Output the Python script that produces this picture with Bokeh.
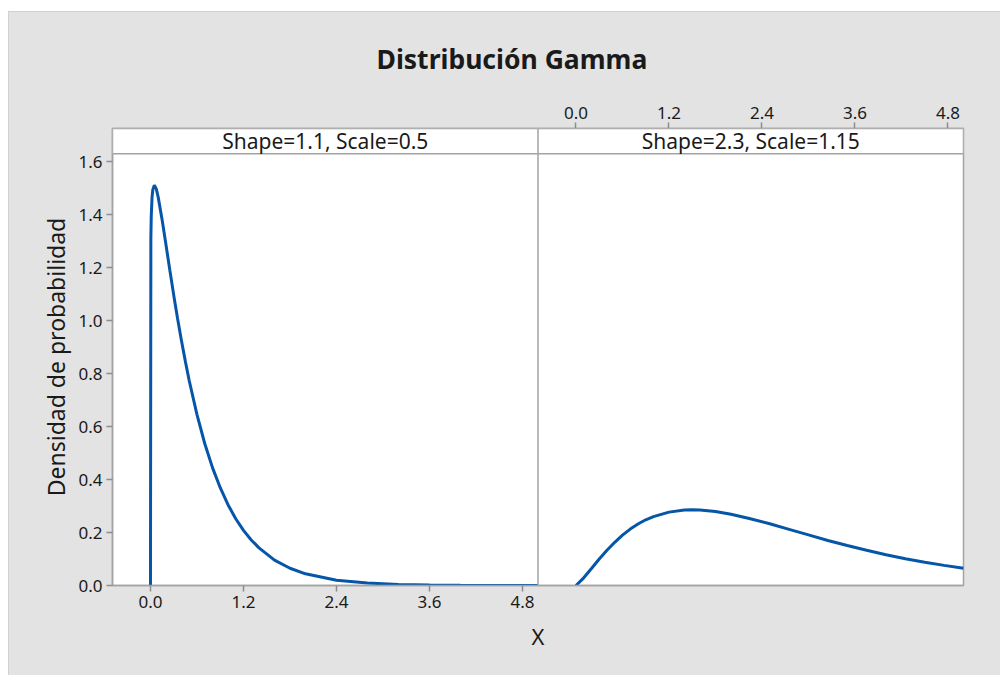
from bokeh.plotting import figure
from bokeh.models import (Range1d, FixedTicker, NumeralTickFormatter, LinearAxis,
                          BoxAnnotation, Span, Label, ColumnDataSource, Title)
from bokeh.embed import file_html
from bokeh.resources import INLINE

# ---- data ----
panel_titles = ["Shape=1.1, Scale=0.5", "Shape=2.3, Scale=1.15"]

x_left = [0.0, 0.005, 0.01, 0.02, 0.03, 0.05, 0.075, 0.1, 0.15, 0.2, 0.25, 0.3, 0.35,
          0.4, 0.45, 0.5, 0.6, 0.7, 0.8, 0.9, 1.0, 1.1, 1.2, 1.3, 1.4, 1.6, 1.8, 2.0,
          2.4, 2.8, 3.2, 3.6, 4.0, 4.5, 5.0]
y_left = [0.0, 1.313, 1.394, 1.464, 1.494, 1.511, 1.497, 1.465, 1.381, 1.286, 1.190,
          1.096, 1.007, 0.924, 0.846, 0.773, 0.645, 0.536, 0.445, 0.369, 0.305, 0.252,
          0.208, 0.172, 0.142, 0.096, 0.065, 0.044, 0.020, 0.009, 0.004, 0.002, 0.001,
          0.0003, 0.0001]

x_right = [0.0, 0.1, 0.2, 0.3, 0.4, 0.5, 0.6, 0.7, 0.8, 0.9, 1.0, 1.2, 1.4, 1.5, 1.6,
           1.8, 2.0, 2.25, 2.5, 2.75, 3.0, 3.25, 3.5, 3.75, 4.0, 4.25, 4.5, 4.75, 5.0]
y_right = [0.0, 0.029, 0.064, 0.100, 0.133, 0.163, 0.190, 0.213, 0.232, 0.248, 0.260,
           0.277, 0.285, 0.286, 0.285, 0.279, 0.269, 0.252, 0.233, 0.212, 0.191, 0.170,
           0.151, 0.133, 0.116, 0.101, 0.088, 0.076, 0.065]

x_ticks = [0.0, 1.2, 2.4, 3.6, 4.8]
x_tick_labels = ["0.0", "1.2", "2.4", "3.6", "4.8"]
y_ticks = [0.0, 0.2, 0.4, 0.6, 0.8, 1.0, 1.2, 1.4, 1.6]

# ---- layout / style ----
FONT = "Noto Sans"
BG = "#E3E3E3"
FRAME = "#A3A3A3"
BLUE = "#0556A8"
TXT = "#1A1A1A"

lo, hi = -0.49, 5.0
offset = hi - lo          # right panel is shifted by one panel width
y_top = 1.725
strip_bottom = 1.63

p = figure(width=992, height=664, x_range=Range1d(lo, hi + offset),
           y_range=Range1d(0, y_top), output_backend="svg", toolbar_location=None,
           min_border_left=104, min_border_right=37, min_border_top=117,
           min_border_bottom=90, background_fill_color="white",
           border_fill_color=BG, outline_line_color=FRAME, outline_line_width=1.5,
           margin=(11, 0, 0, 8),
           styles={"outline": "2px solid #CBCBCB", "outline-offset": "-2px"})
p.xgrid.visible = False
p.ygrid.visible = False

# curves
src_l = ColumnDataSource(dict(x=x_left, y=y_left))
src_r = ColumnDataSource(dict(x=[v + offset for v in x_right], y=y_right))
p.line("x", "y", source=src_l, line_color=BLUE, line_width=3)
p.line("x", "y", source=src_r, line_color=BLUE, line_width=3)

# strips and divider
p.add_layout(BoxAnnotation(bottom=strip_bottom, fill_color="white", fill_alpha=1,
                           line_color=FRAME, line_alpha=1, line_width=1.5))
p.add_layout(Span(location=hi, dimension="height", line_color=FRAME, line_width=1.5))
for i, t in enumerate(panel_titles):
    p.add_layout(Label(x=(lo + hi) / 2 + i * offset, y=(strip_bottom + y_top) / 2,
                       text=t, text_align="center", text_baseline="middle",
                       text_font=FONT, text_font_size="21px", text_color=TXT))

def style_axis(ax):
    ax.axis_line_color = FRAME
    ax.axis_line_width = 1.5
    ax.major_tick_line_color = "#8C8C8C"
    ax.major_tick_line_width = 1.5
    ax.major_tick_out = 6
    ax.major_tick_in = 0
    ax.minor_tick_out = 0
    ax.minor_tick_in = 0
    ax.major_label_text_font = FONT
    ax.major_label_text_font_size = "17px"
    ax.major_label_text_color = TXT
    ax.major_label_standoff = 4
    ax.axis_label_text_font = FONT
    ax.axis_label_text_font_style = "normal"
    ax.axis_label_text_color = TXT

# bottom axis (left panel)
xa = p.xaxis[0]
style_axis(xa)
xa.ticker = FixedTicker(ticks=x_ticks)
xa.major_label_overrides = {t: s for t, s in zip(x_ticks, x_tick_labels)}
xa.axis_label = "X"
xa.axis_label_text_font_size = "22px"
xa.axis_label_standoff = 10

# left axis
ya = p.yaxis[0]
style_axis(ya)
ya.ticker = FixedTicker(ticks=y_ticks)
ya.formatter = NumeralTickFormatter(format="0.0")
ya.axis_label = "Densidad de probabilidad"
ya.axis_label_text_font_size = "23px"
ya.axis_label_standoff = 3

# top axis (right panel)
top_ticks = [t + offset for t in x_ticks]
ta = LinearAxis(ticker=FixedTicker(ticks=top_ticks),
                major_label_overrides={t: s for t, s in zip(top_ticks, x_tick_labels)})
style_axis(ta)
p.add_layout(ta, "above")

# chart title
p.add_layout(Title(text="Distribución Gamma", align="left", offset=264,
                   standoff=53, text_font=FONT, text_font_size="26.5px",
                   text_font_style="bold", text_color=TXT), "above")

open("out.html", "w").write(file_html(p, INLINE))
